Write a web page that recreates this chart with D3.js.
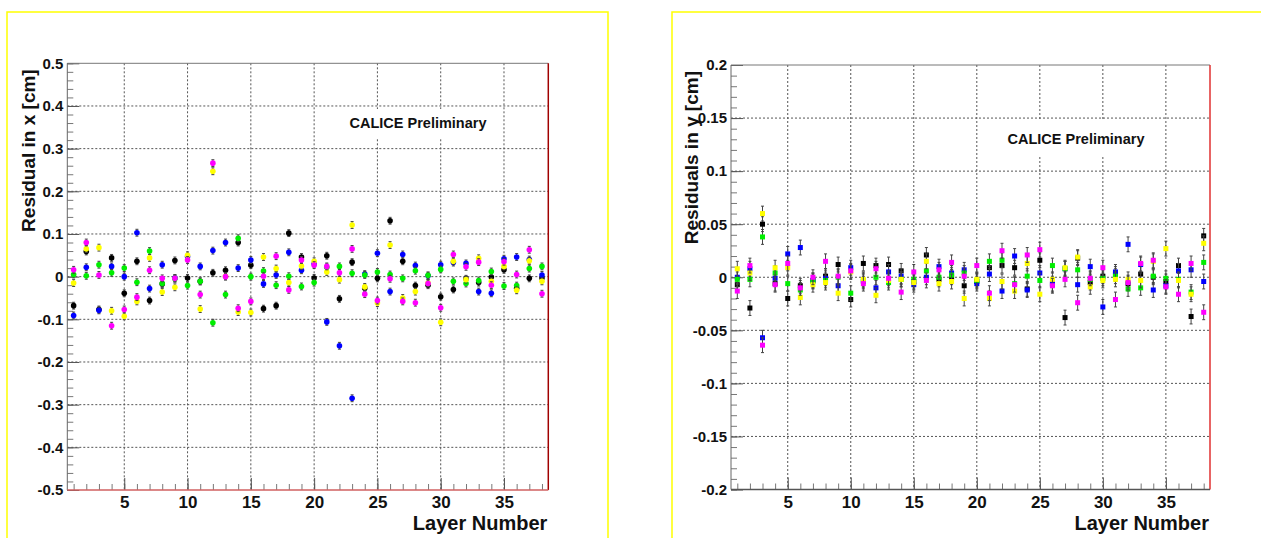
<!DOCTYPE html>
<html>
<head>
<meta charset="utf-8">
<script src="https://cdn.jsdelivr.net/npm/d3@7"></script>
<style>
  body { margin: 0; background: #fff; }
  svg { display: block; font-family: "Liberation Sans", Arial, sans-serif; font-weight: bold; }
</style>
</head>
<body>
<script>
// layer numbers (x categories)
const layers = [1,2,3,4,5,6,7,8,9,10,11,12,13,14,15,16,17,18,19,20,21,22,23,24,25,26,27,28,29,30,31,32,33,34,35,36,37,38];
const xTicks = [5, 10, 15, 20, 25, 30, 35];

// residuals in x [cm], one array per run colour
const xBlack   = [-0.068,0.059,-0.077,0.044,-0.039,0.036,-0.056,-0.017,0.038,-0.003,-0.011,0.009,0.015,0.080,0.027,-0.075,-0.068,0.102,0.046,-0.003,0.049,-0.052,0.034,-0.027,-0.004,0.131,0.036,-0.021,-0.020,-0.047,-0.030,-0.005,-0.014,-0.001,0.016,-0.027,-0.004,-0.003];
const xBlue    = [-0.091,0.022,-0.079,0.024,0.000,0.103,-0.028,0.028,-0.003,0.047,0.024,0.061,0.080,0.020,0.039,-0.017,0.004,0.057,0.015,0.030,-0.106,-0.162,-0.285,0.006,0.055,-0.035,0.052,0.026,0.002,0.028,0.033,0.031,-0.035,-0.039,0.042,0.046,0.040,0.004];
const xGreen   = [0.005,0.002,0.028,0.009,0.020,-0.013,0.060,-0.016,-0.005,-0.021,-0.011,-0.108,-0.042,0.090,0.000,0.013,-0.020,0.001,-0.023,-0.014,0.022,0.024,0.008,0.004,0.011,0.005,-0.004,0.014,0.003,0.017,-0.011,-0.016,-0.009,0.012,-0.022,-0.021,0.019,0.024];
const xYellow  = [-0.015,0.065,0.068,-0.080,-0.093,-0.058,0.044,-0.036,-0.025,0.050,-0.076,0.247,0.001,-0.083,-0.084,0.046,0.019,-0.014,0.025,0.036,0.011,-0.007,0.121,-0.024,-0.062,0.074,-0.050,-0.035,-0.015,-0.107,0.036,-0.007,0.043,-0.011,0.024,-0.032,0.037,-0.011];
const xMagenta = [0.016,0.080,0.004,-0.115,-0.077,-0.048,0.015,-0.004,-0.004,0.039,-0.042,0.266,0.000,-0.074,-0.058,0.001,0.048,-0.031,0.039,0.027,0.024,0.009,0.065,-0.041,-0.056,-0.005,-0.058,-0.061,-0.016,-0.073,0.052,0.023,0.034,-0.020,0.035,0.005,0.063,-0.040];
const xErr = 0.008;
const xYTicks = [-0.5,-0.4,-0.3,-0.2,-0.1,0,0.1,0.2,0.3,0.4,0.5];

// residuals in y [cm]
const yBlack   = [-0.007,-0.029,0.050,-0.006,-0.020,-0.008,-0.003,0.001,0.012,-0.021,0.013,0.011,0.012,0.006,-0.004,0.021,-0.002,0.000,-0.008,-0.004,0.009,0.011,0.009,-0.011,0.016,-0.007,-0.038,0.018,-0.005,0.001,0.003,-0.006,0.003,0.000,-0.004,0.011,-0.037,0.039];
const yBlue    = [0.000,0.008,-0.057,-0.001,0.022,0.028,-0.003,-0.001,-0.008,0.009,-0.004,-0.010,0.005,0.001,-0.007,0.000,0.010,0.004,0.007,-0.006,0.003,-0.013,0.020,-0.012,0.004,-0.006,0.008,-0.007,0.010,-0.028,0.005,0.031,0.012,-0.012,-0.008,0.006,0.007,-0.004];
const yGreen   = [-0.002,-0.002,0.038,0.004,-0.006,-0.012,-0.004,-0.003,0.000,-0.015,-0.003,0.000,-0.005,-0.002,-0.002,0.006,0.000,0.002,0.004,-0.003,0.015,0.016,-0.006,0.001,-0.003,0.011,0.008,0.007,-0.002,-0.001,0.001,-0.011,-0.010,0.001,-0.001,-0.002,-0.014,0.014];
const yYellow  = [0.008,0.004,0.060,0.009,0.009,-0.019,-0.007,-0.005,-0.015,0.005,-0.002,-0.017,-0.003,-0.002,-0.005,0.015,-0.006,-0.004,-0.020,-0.002,-0.020,-0.004,-0.013,0.013,-0.016,-0.002,0.009,0.019,-0.009,-0.003,-0.002,-0.002,-0.003,0.015,0.027,-0.003,-0.016,0.032];
const yMagenta = [-0.013,0.011,-0.064,-0.007,0.013,-0.010,0.000,0.015,0.001,0.006,-0.006,0.008,-0.001,-0.014,0.005,-0.003,0.007,0.014,0.001,0.011,-0.015,0.025,-0.007,0.021,0.026,-0.008,-0.002,-0.024,-0.001,0.009,-0.021,-0.005,0.013,0.016,-0.009,-0.016,0.013,-0.033];
const yErr = 0.007;
const yYTicks = [-0.2,-0.15,-0.1,-0.05,0,0.05,0.1,0.15,0.2];

const colors = ['#000000', '#0000ff', '#00ee00', '#ffff00', '#ff00ff'];

const svg = d3.select('body').append('svg')
    .attr('width', 1261)
    .attr('height', 538);

svg.append('rect').attr('width', 1261).attr('height', 538).attr('fill', '#fff');

drawPanel({
    frame: {x: 7, y: 12, w: 601},
    left: 67.3, right: 548.3, top: 63.3, bottom: 490,
    ydomain: [-0.5, 0.5], yTicks: xYTicks, minorStep: 0.02,
    series: [xBlack, xBlue, xGreen, xYellow, xMagenta], err: xErr,
    marker: 'circle',
    title: 'Residual in x [cm]', titleX: 35,
    label: {x: 418, y: 123, box: [347, 109, 143, 29]},
    rightColor: '#a00000', bottomColor: '#d06060'
});

drawPanel({
    frame: {x: 672, y: 12, w: 600},
    left: 731, right: 1210, top: 65, bottom: 489.5,
    ydomain: [-0.2, 0.2], yTicks: yYTicks, minorStep: 0.01,
    series: [yBlack, yBlue, yGreen, yYellow, yMagenta], err: yErr,
    marker: 'square',
    title: 'Residuals in y [cm]', titleX: 698,
    label: {x: 1076, y: 139, box: [1005, 121, 145, 36]},
    rightColor: '#e03030', bottomColor: '#555'
});

function drawPanel(p) {
    // yellow pad frame
    svg.append('path')
        .attr('d', `M${p.frame.x},540 V${p.frame.y} H${p.frame.x + p.frame.w} V540`)
        .attr('fill', 'none')
        .attr('stroke', '#ffff00')
        .attr('stroke-width', 1.5);

    const x = d3.scaleLinear().domain([0.5, 38.5]).range([p.left, p.right]);
    const y = d3.scaleLinear().domain(p.ydomain).range([p.bottom, p.top]);
    const g = svg.append('g');

    // dotted grid
    g.selectAll('.gx').data(xTicks).enter().append('line')
        .attr('x1', d => x(d)).attr('x2', d => x(d))
        .attr('y1', p.top).attr('y2', p.bottom)
        .attr('stroke', '#555').attr('stroke-dasharray', '2,2');
    g.selectAll('.gy').data(p.yTicks.slice(1, -1)).enter().append('line')
        .attr('x1', p.left).attr('x2', p.right)
        .attr('y1', d => y(d)).attr('y2', d => y(d))
        .attr('stroke', '#555').attr('stroke-dasharray', '2,2');

    // white box behind the label
    svg.append('rect')
        .attr('x', p.label.box[0]).attr('y', p.label.box[1])
        .attr('width', p.label.box[2]).attr('height', p.label.box[3])
        .attr('fill', '#fff');
    svg.append('text')
        .attr('x', p.label.x).attr('y', p.label.y)
        .attr('dy', '0.35em')
        .attr('text-anchor', 'middle')
        .attr('font-size', 14.5)
        .attr('fill', '#111')
        .text('CALICE Preliminary');

    // minor ticks
    const lo = p.ydomain[0], n = Math.round((p.ydomain[1] - lo) / p.minorStep);
    const yMinor = d3.range(n + 1).map(i => lo + i * p.minorStep);
    svg.append('g')
        .attr('transform', `translate(${p.left},0)`)
        .call(d3.axisLeft(y).tickValues(yMinor).tickSize(-6).tickFormat(''))
        .call(a => a.select('.domain').remove())
        .selectAll('line').attr('stroke', '#777');
    svg.append('g')
        .attr('transform', `translate(0,${p.bottom})`)
        .call(d3.axisBottom(x).tickValues(layers).tickSize(-6).tickFormat(''))
        .call(a => a.select('.domain').remove())
        .selectAll('line').attr('stroke', '#777');

    // major ticks with labels
    const yAxis = svg.append('g')
        .attr('transform', `translate(${p.left},0)`)
        .call(d3.axisLeft(y).tickValues(p.yTicks).tickSize(-12).tickPadding(4)
            .tickFormat(d => Math.abs(d) < 1e-9 ? '0' : String(+d.toFixed(2))));
    yAxis.select('.domain').remove();
    yAxis.selectAll('line').attr('stroke', '#555');
    yAxis.selectAll('text').attr('font-size', 15).attr('fill', '#111')
        .attr('font-family', '"Liberation Sans", Arial, sans-serif').attr('font-weight', 'bold');

    const xAxis = svg.append('g')
        .attr('transform', `translate(0,${p.bottom})`)
        .call(d3.axisBottom(x).tickValues(xTicks).tickSize(-12).tickPadding(6));
    xAxis.select('.domain').remove();
    xAxis.selectAll('line').attr('stroke', '#555');
    xAxis.selectAll('text').attr('font-size', 17).attr('fill', '#111').attr('dy', '0.71em')
        .attr('font-family', '"Liberation Sans", Arial, sans-serif').attr('font-weight', 'bold');

    // frame
    svg.append('line').attr('x1', p.left).attr('x2', p.right).attr('y1', p.top).attr('y2', p.top).attr('stroke', '#777');
    svg.append('line').attr('x1', p.left).attr('x2', p.left).attr('y1', p.top).attr('y2', p.bottom).attr('stroke', '#666');
    svg.append('line').attr('x1', p.right).attr('x2', p.right).attr('y1', p.top).attr('y2', p.bottom)
        .attr('stroke', p.rightColor).attr('stroke-width', 1.5);
    svg.append('line').attr('x1', p.left).attr('x2', p.right).attr('y1', p.bottom).attr('y2', p.bottom)
        .attr('stroke', p.bottomColor).attr('stroke-width', 1.5);

    // axis titles
    svg.append('text')
        .attr('transform', `translate(${p.titleX},${p.top + 6}) rotate(-90)`)
        .attr('text-anchor', 'end')
        .attr('font-size', 19)
        .attr('fill', '#111')
        .text(p.title);
    svg.append('text')
        .attr('x', p.right - 1).attr('y', 530)
        .attr('text-anchor', 'end')
        .attr('font-size', 20)
        .attr('fill', '#111')
        .text('Layer Number');

    // points with error bars
    p.series.forEach((vals, si) => {
        const pts = vals.map((v, i) => ({layer: layers[i], v: v}));
        const s = svg.append('g');
        const eb = s.selectAll('g.eb').data(pts).enter().append('g')
            .attr('stroke', '#444').attr('stroke-width', 1);
        eb.append('line')
            .attr('x1', d => x(d.layer)).attr('x2', d => x(d.layer))
            .attr('y1', d => y(d.v - p.err)).attr('y2', d => y(d.v + p.err));
        eb.append('line')
            .attr('x1', d => x(d.layer) - 1.5).attr('x2', d => x(d.layer) + 1.5)
            .attr('y1', d => y(d.v - p.err)).attr('y2', d => y(d.v - p.err));
        eb.append('line')
            .attr('x1', d => x(d.layer) - 1.5).attr('x2', d => x(d.layer) + 1.5)
            .attr('y1', d => y(d.v + p.err)).attr('y2', d => y(d.v + p.err));
        if (p.marker === 'circle') {
            s.selectAll('circle').data(pts).enter().append('circle')
                .attr('cx', d => x(d.layer)).attr('cy', d => y(d.v))
                .attr('r', 2.8).attr('fill', colors[si]);
        } else {
            s.selectAll('rect').data(pts).enter().append('rect')
                .attr('x', d => x(d.layer) - 2.5).attr('y', d => y(d.v) - 2.5)
                .attr('width', 5).attr('height', 5).attr('fill', colors[si]);
        }
    });
}
</script>
</body>
</html>
